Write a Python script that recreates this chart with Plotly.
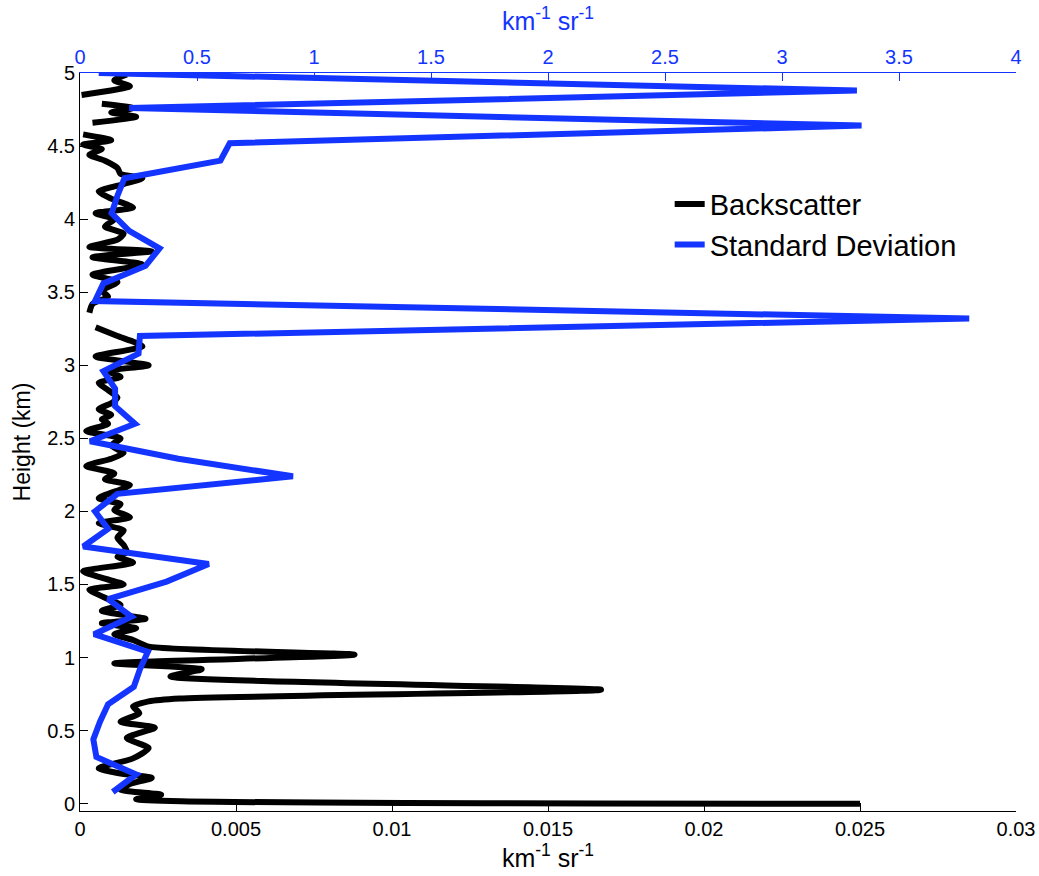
import plotly.graph_objects as go

# Backscatter profile (bottom axis, km^-1 sr^-1) vs height (km); None = gap
bs_height = [0.000, 0.030, 0.062, 0.096, 0.135, 0.176, 0.210, 0.243, 0.310, 0.380, 0.450, 0.520,
             0.560, 0.620, 0.665, 0.700, 0.720, 0.780, 0.870, 0.920, 0.960, 1.020, 1.075, 1.120,
             1.160, 1.200, 1.235, 1.265, 1.320, 1.360, 1.400, 1.465, 1.500, 1.540, 1.590, 1.650,
             1.690, 1.720, 1.770, 1.820, 1.870, 1.920, 1.960, 2.010, 2.050, 2.090, 2.180, 2.220,
             2.260, 2.310, 2.360, 2.400, 2.450, 2.500, 2.550, 2.600, 2.630, 2.660, 2.700, 2.740,
             2.780, 2.830, 2.880, 2.920, 2.960, 3.000, 3.060, 3.130, 3.200, 3.260, 3.310, 3.360,
             3.420, 3.470, 3.510, 3.570, 3.620, 3.690, 3.740, 3.780, 3.810, 3.860, 3.900, 3.950,
             4.000, 4.040, 4.080, 4.140, 4.190, 4.240, 4.280, 4.310, 4.350, 4.400, 4.440, 4.480,
             4.510, 4.540, 4.580, 4.620, 4.660, 4.700, 4.730, 4.760, 4.790, 4.820, 4.850, 4.910,
             4.950, 4.990]
bs_value = [0.0250, 0.0018, 0.0026, 0.0013, 0.0016, 0.0023, 0.0012, 0.0006, 0.0017, 0.0022, 0.0015, 0.0024,
            0.0013, 0.0019, 0.0017, 0.0022, 0.0032, 0.0167, 0.0029, 0.0039, 0.0011, 0.0088, 0.0022, 0.0017,
            0.0011, 0.0018, 0.0007, 0.0021, 0.0007, 0.0013, 0.0009, 0.0003, 0.0014, 0.0008, 0.0001, 0.0017,
            0.0012, 0.0015, 0.0014, 0.0012, 0.0014, 0.0006, 0.0016, 0.0011, 0.0013, 0.0006, 0.0016, 0.0008,
            0.0011, 0.0002, 0.0010, 0.0014, 0.0010, 0.0013, 0.0002, 0.0009, 0.0007, 0.0010, 0.0006, 0.0010,
            0.0012, 0.0009, 0.0006, 0.0013, 0.0009, 0.0022, 0.0005, 0.0020, 0.0012, 0.0005, None, 0.0003,
            0.0004, 0.0009, 0.0007, 0.0012, 0.0004, 0.0020, 0.0004, 0.0023, 0.0003, 0.0012, 0.0014, 0.0008,
            0.0011, 0.0005, 0.0017, 0.0010, 0.0006, 0.0014, 0.0020, 0.0013, 0.0012, 0.0008, 0.0003, 0.0007,
            0.0001, 0.0010, 0.0001, None, 0.0004, 0.0018, 0.0010, 0.0017, 0.0007, None, 0.00005, 0.0016,
            0.0011, 0.0015]

# Standard deviation profile (top axis, km^-1 sr^-1)
sd_height = [0.08, 0.20, 0.32, 0.44, 0.56, 0.68, 0.80, 0.92, 1.04, 1.16, 1.28, 1.40, 1.52, 1.64,
             1.76, 1.88, 2.00, 2.12, 2.24, 2.36, 2.48, 2.60, 2.72, 2.84, 2.96, 3.08, 3.20, 3.32,
             3.44, 3.56, 3.68, 3.80, 3.92, 4.04, 4.16, 4.28, 4.40, 4.52, 4.64, 4.76, 4.88, 5.00]
sd_value = [0.14, 0.24, 0.07, 0.057, 0.085, 0.12, 0.23, 0.256, 0.29, 0.06, 0.22, 0.12, 0.37, 0.55,
            0.014, 0.12, 0.064, 0.16, 0.91, 0.42, 0.043, 0.235, 0.15, 0.15, 0.10, 0.25, 0.256, 3.80,
            0.064, 0.10, 0.28, 0.34, 0.21, 0.135, 0.16, 0.19, 0.60, 0.64, 3.34, 0.21, 3.32, 0.08]

bottom_ticks = [0, 0.005, 0.01, 0.015, 0.02, 0.025, 0.03]
bottom_labels = ["0", "0.005", "0.01", "0.015", "0.02", "0.025", "0.03"]
top_ticks = [0, 0.5, 1, 1.5, 2, 2.5, 3, 3.5, 4]
top_labels = ["0", "0.5", "1", "1.5", "2", "2.5", "3", "3.5", "4"]
y_ticks = [0, 0.5, 1, 1.5, 2, 2.5, 3, 3.5, 4, 4.5, 5]
y_labels = ["0", "0.5", "1", "1.5", "2", "2.5", "3", "3.5", "4", "4.5", "5"]

BLUE = "rgb(20,52,255)"
FONT = "Liberation Sans, Arial, sans-serif"

fig = go.Figure()
fig.add_trace(go.Scatter(x=bs_value, y=bs_height, mode="lines", name="Backscatter",
                         line=dict(color="black", width=6, shape="spline", smoothing=0.6),
                         connectgaps=False, xaxis="x", yaxis="y"))
fig.add_trace(go.Scatter(x=sd_value, y=sd_height, mode="lines", name="Standard Deviation",
                         line=dict(color=BLUE, width=6), xaxis="x2", yaxis="y"))

fig.update_layout(
    width=1039, height=876,
    margin=dict(l=80, r=23, t=73, b=65, autoexpand=False),
    paper_bgcolor="white", plot_bgcolor="white",
    font=dict(family=FONT, size=20, color="black"),
    showlegend=True,
    legend=dict(x=0.63, y=0.857, xanchor="left", yanchor="top",
                font=dict(size=29, family=FONT, color="black"),
                bgcolor="rgba(0,0,0,0)", borderwidth=0, tracegroupgap=0),
    xaxis=dict(range=[0, 0.03], tickvals=bottom_ticks, ticktext=bottom_labels,
               ticks="inside", ticklen=8, tickwidth=1, tickcolor="black",
               showline=True, linecolor="black", linewidth=1, showgrid=False, zeroline=False,
               title=dict(text="km<sup>-1</sup> sr<sup>-1</sup>", font=dict(size=25), standoff=6),
               tickfont=dict(size=20), automargin=False),
    xaxis2=dict(range=[0, 4], overlaying="x", side="top", anchor="y",
                tickvals=top_ticks, ticktext=top_labels,
                ticks="inside", ticklen=8, tickwidth=1, tickcolor=BLUE,
                showline=True, linecolor=BLUE, linewidth=1, showgrid=False, zeroline=False,
                tickfont=dict(size=20, color=BLUE),
                title=dict(text="km<sup>-1</sup> sr<sup>-1</sup>", font=dict(size=25, color=BLUE), standoff=8),
                automargin=False),
    yaxis=dict(range=[-0.05, 5], tickvals=y_ticks, ticktext=y_labels,
               ticks="inside", ticklen=8, tickwidth=1, tickcolor="black",
               showline=True, linecolor="black", linewidth=1, showgrid=False, zeroline=False,
               title=dict(text="Height (km)", font=dict(size=23), standoff=10),
               tickfont=dict(size=20), automargin=False),
)

fig.write_html("out.html")
